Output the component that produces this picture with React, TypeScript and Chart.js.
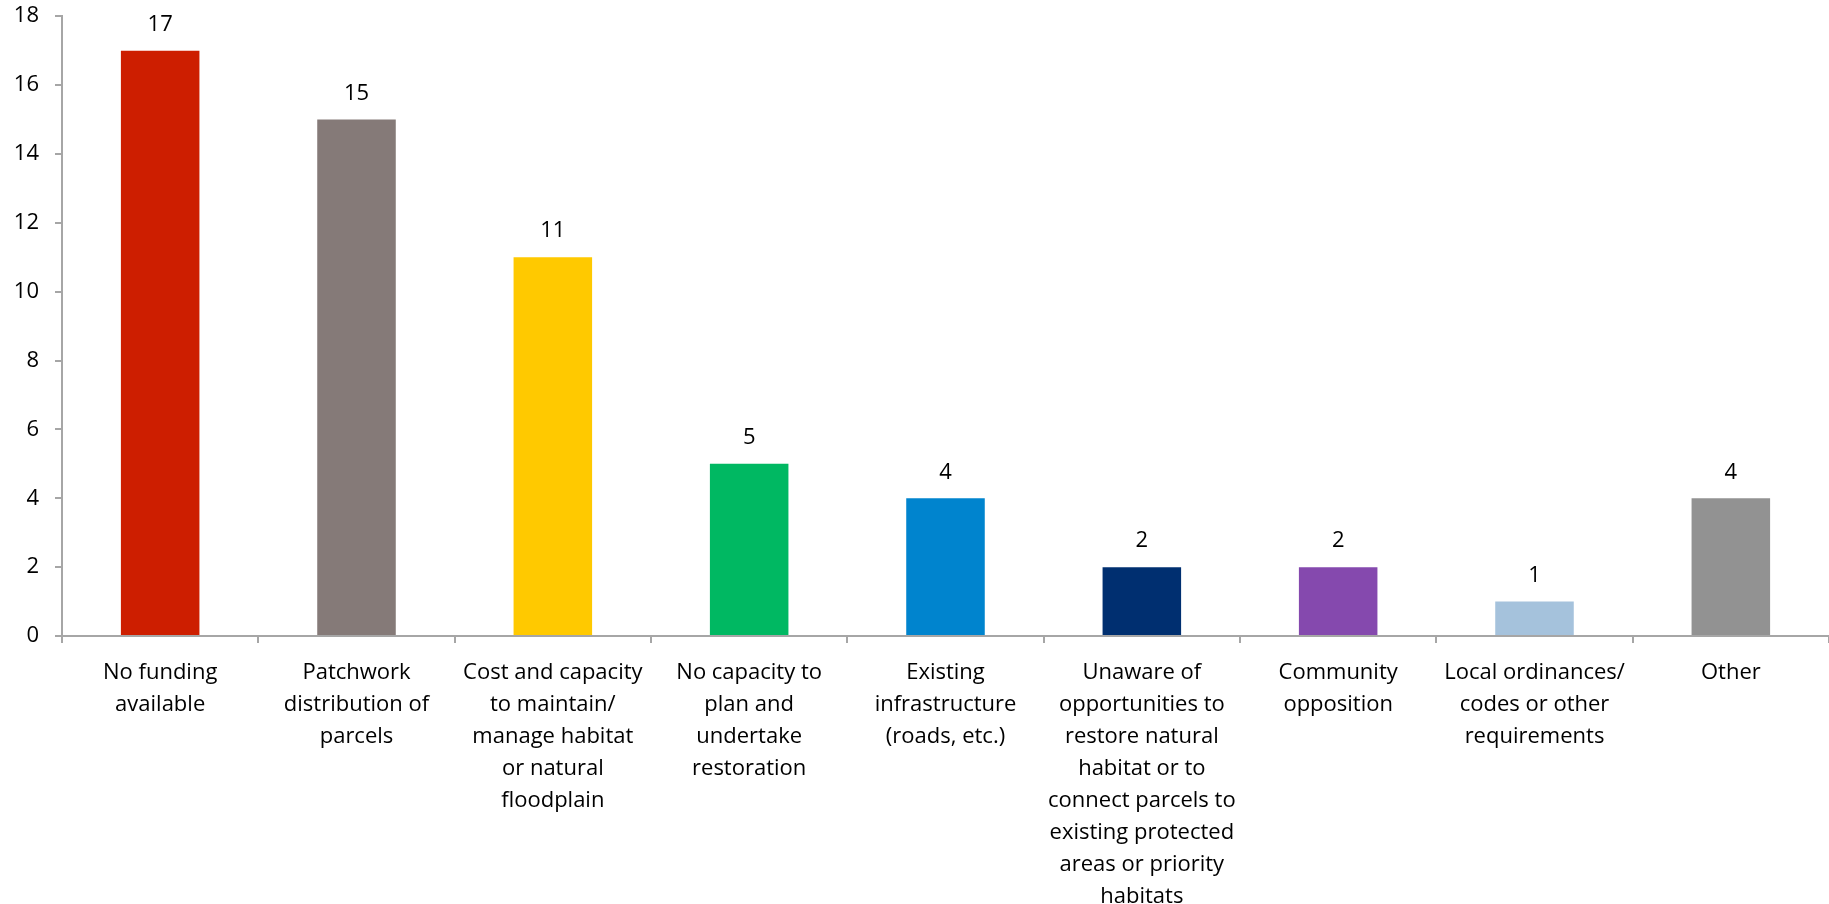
import React, { useEffect, useRef } from "react";
import { Chart, registerables } from "chart.js";

Chart.register(...registerables);

const categories: string[][] = [
  ["No funding", "available"],
  ["Patchwork", "distribution of", "parcels"],
  ["Cost and capacity", "to maintain/", "manage habitat", "or natural", "floodplain"],
  ["No capacity to", "plan and", "undertake", "restoration"],
  ["Existing", "infrastructure", "(roads, etc.)"],
  ["Unaware of", "opportunities to", "restore natural", "habitat or to", "connect parcels to", "existing protected", "areas or priority", "habitats"],
  ["Community", "opposition"],
  ["Local ordinances/", "codes or other", "requirements"],
  ["Other"],
];

const values: number[] = [17, 15, 11, 5, 4, 2, 2, 1, 4];

const barColors: string[] = [
  "#CD1E00",
  "#857A78",
  "#FFC900",
  "#00B862",
  "#0084CE",
  "#002F70",
  "#8549AE",
  "#A5C2DC",
  "#929292",
];

const yTicks: number[] = [0, 2, 4, 6, 8, 10, 12, 14, 16, 18];

const FONT = "'Open Sans', Lato, sans-serif";

const valueLabels = {
  id: "valueLabels",
  afterDatasetsDraw(chart: any) {
    const ctx = chart.ctx;
    const meta = chart.getDatasetMeta(0);
    ctx.save();
    ctx.font = `22px ${FONT}`;
    ctx.fillStyle = "#000";
    ctx.textAlign = "center";
    ctx.textBaseline = "bottom";
    meta.data.forEach((bar: any, i: number) => {
      ctx.fillText(String(values[i]), bar.x, bar.y - 15);
    });
    ctx.restore();
  },
};

export default function App() {
  const ref = useRef<HTMLCanvasElement>(null);
  useEffect(() => {
    if (!ref.current) return;
    const chart = new Chart(ref.current, {
      type: "bar",
      data: {
        labels: categories,
        datasets: [
          {
            data: values,
            backgroundColor: barColors,
            borderWidth: 0,
            barPercentage: 0.4,
            categoryPercentage: 1,
          },
        ],
      },
      options: {
        animation: false,
        responsive: false,
        devicePixelRatio: 1,
        layout: { padding: { top: 3, left: 0, right: 0, bottom: 0 } },
        plugins: { legend: { display: false }, tooltip: { enabled: false } },
        scales: {
          x: {
            offset: true,
            afterFit: (axis: any) => {
              axis.height = 268;
            },
            grid: {
              offset: true,
              drawOnChartArea: false,
              drawTicks: true,
              tickLength: 7,
              color: "#A6A6A6",
              lineWidth: 2,
            },
            border: { color: "#A6A6A6", width: 2 },
            ticks: {
              autoSkip: false,
              maxRotation: 0,
              minRotation: 0,
              padding: 14,
              color: "#000",
              font: { family: FONT, size: 22, lineHeight: "32px" },
            },
          },
          y: {
            min: 0,
            max: 18,
            afterFit: (axis: any) => {
              axis.width = 62;
            },
            afterBuildTicks: (axis: any) => {
              axis.ticks = yTicks.map((v) => ({ value: v }));
            },
            grid: {
              drawOnChartArea: false,
              drawTicks: true,
              tickLength: 7,
              color: "#A6A6A6",
              lineWidth: 2,
            },
            border: { color: "#A6A6A6", width: 2 },
            ticks: {
              padding: 16,
              color: "#000",
              font: { family: FONT, size: 22 },
            },
          },
        },
      },
      plugins: [valueLabels],
    });
    return () => chart.destroy();
  }, []);
  return (
    <div style={{ position: "fixed", left: 0, top: 0, width: 1829, height: 904, overflow: "hidden", background: "#fff" }}>
      <canvas
        ref={ref}
        width={1829}
        height={917}
        style={{ display: "block", marginTop: -13 }}
      />
    </div>
  );
}
